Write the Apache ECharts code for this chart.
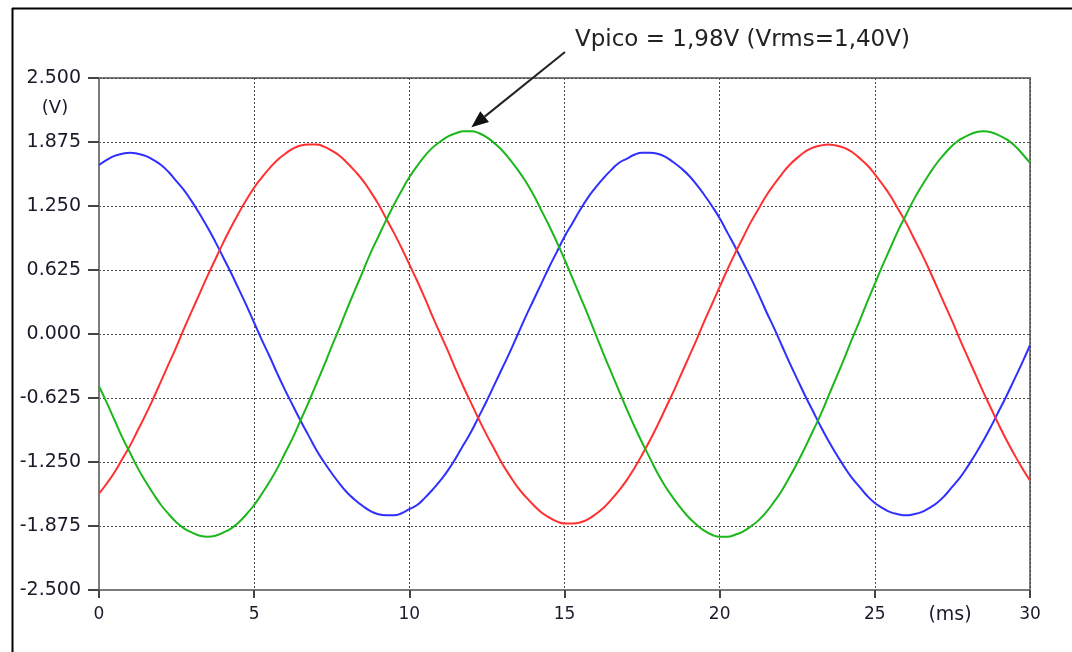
<!DOCTYPE html>
<html>
<head>
<meta charset="utf-8">
<script src="https://cdn.jsdelivr.net/npm/echarts@6/dist/echarts.min.js"></script>
<style>
  html, body { margin: 0; padding: 0; background: #ffffff; }
  #chart { width: 1072px; height: 652px; }
</style>
</head>
<body>
<div id="chart"></div>
<script>
// Time axis, milliseconds (one sample every 0.25 ms)
const timeMs = [
  0, 0.25, 0.5, 0.75, 1, 1.25, 1.5, 1.75, 2, 2.25, 2.5, 2.75, 3, 3.25, 3.5, 3.75,
  4, 4.25, 4.5, 4.75, 5, 5.25, 5.5, 5.75, 6, 6.25, 6.5, 6.75, 7, 7.25, 7.5, 7.75,
  8, 8.25, 8.5, 8.75, 9, 9.25, 9.5, 9.75, 10, 10.25, 10.5, 10.75, 11, 11.25, 11.5, 11.75,
  12, 12.25, 12.5, 12.75, 13, 13.25, 13.5, 13.75, 14, 14.25, 14.5, 14.75, 15, 15.25, 15.5, 15.75,
  16, 16.25, 16.5, 16.75, 17, 17.25, 17.5, 17.75, 18, 18.25, 18.5, 18.75, 19, 19.25, 19.5, 19.75,
  20, 20.25, 20.5, 20.75, 21, 21.25, 21.5, 21.75, 22, 22.25, 22.5, 22.75, 23, 23.25, 23.5, 23.75,
  24, 24.25, 24.5, 24.75, 25, 25.25, 25.5, 25.75, 26, 26.25, 26.5, 26.75, 27, 27.25, 27.5, 27.75,
  28, 28.25, 28.5, 28.75, 29, 29.25, 29.5, 29.75, 30
];

// Phase voltages (V)
const phaseBlue = [
  1.65, 1.70, 1.74, 1.76, 1.77, 1.76, 1.74, 1.70, 1.65, 1.58, 1.49, 1.40, 1.29, 1.17, 1.04, 0.90,
  0.75, 0.60, 0.44, 0.28, 0.11, -0.06, -0.22, -0.39, -0.55, -0.70, -0.85, -0.99, -1.13, -1.25, -1.36, -1.46,
  -1.55, -1.62, -1.68, -1.73, -1.76, -1.77, -1.77, -1.75, -1.71, -1.67, -1.60, -1.52, -1.43, -1.33, -1.21, -1.08,
  -0.95, -0.80, -0.65, -0.49, -0.33, -0.17, 0.00, 0.17, 0.33, 0.49, 0.65, 0.80, 0.95, 1.08, 1.21, 1.33,
  1.43, 1.52, 1.60, 1.67, 1.71, 1.75, 1.77, 1.77, 1.76, 1.73, 1.68, 1.62, 1.55, 1.46, 1.36, 1.25,
  1.13, 0.99, 0.85, 0.70, 0.55, 0.39, 0.22, 0.06, -0.11, -0.28, -0.44, -0.60, -0.75, -0.90, -1.04, -1.17,
  -1.29, -1.40, -1.49, -1.58, -1.65, -1.70, -1.74, -1.76, -1.77, -1.76, -1.74, -1.70, -1.65, -1.58, -1.49, -1.40,
  -1.29, -1.17, -1.04, -0.90, -0.75, -0.60, -0.44, -0.28, -0.11
];
const phaseRed = [
  -1.56, -1.46, -1.35, -1.22, -1.09, -0.94, -0.79, -0.63, -0.46, -0.29, -0.12, 0.06, 0.23, 0.40, 0.57, 0.73,
  0.89, 1.04, 1.18, 1.31, 1.43, 1.53, 1.62, 1.70, 1.76, 1.81, 1.84, 1.85, 1.85, 1.83, 1.79, 1.74,
  1.67, 1.59, 1.50, 1.39, 1.27, 1.13, 0.99, 0.84, 0.68, 0.52, 0.35, 0.17, 0.00, -0.17, -0.35, -0.52,
  -0.68, -0.84, -0.99, -1.13, -1.27, -1.39, -1.50, -1.59, -1.67, -1.74, -1.79, -1.83, -1.85, -1.85, -1.84, -1.81,
  -1.76, -1.70, -1.62, -1.53, -1.43, -1.31, -1.18, -1.04, -0.89, -0.73, -0.57, -0.40, -0.23, -0.06, 0.12, 0.29,
  0.46, 0.63, 0.79, 0.94, 1.09, 1.22, 1.35, 1.46, 1.56, 1.65, 1.72, 1.78, 1.82, 1.84, 1.85, 1.84,
  1.82, 1.78, 1.72, 1.65, 1.56, 1.46, 1.35, 1.22, 1.09, 0.94, 0.79, 0.63, 0.46, 0.29, 0.12, -0.06,
  -0.23, -0.40, -0.57, -0.73, -0.89, -1.04, -1.18, -1.31, -1.43
];
const phaseGreen = [
  -0.51, -0.67, -0.84, -1.01, -1.16, -1.31, -1.44, -1.56, -1.67, -1.76, -1.84, -1.90, -1.94, -1.97, -1.98, -1.97,
  -1.94, -1.90, -1.84, -1.76, -1.67, -1.56, -1.44, -1.31, -1.16, -1.01, -0.84, -0.67, -0.49, -0.31, -0.12, 0.06,
  0.25, 0.43, 0.61, 0.79, 0.95, 1.11, 1.26, 1.40, 1.53, 1.64, 1.74, 1.82, 1.88, 1.93, 1.96, 1.98,
  1.98, 1.96, 1.92, 1.86, 1.79, 1.70, 1.60, 1.49, 1.36, 1.21, 1.06, 0.90, 0.73, 0.55, 0.37, 0.19,
  0.00, -0.19, -0.37, -0.55, -0.73, -0.90, -1.06, -1.21, -1.36, -1.49, -1.60, -1.70, -1.79, -1.86, -1.92, -1.96,
  -1.98, -1.98, -1.96, -1.93, -1.88, -1.82, -1.74, -1.64, -1.53, -1.40, -1.26, -1.11, -0.95, -0.79, -0.61, -0.43,
  -0.25, -0.06, 0.12, 0.31, 0.49, 0.67, 0.84, 1.01, 1.16, 1.31, 1.44, 1.56, 1.67, 1.76, 1.84, 1.90,
  1.94, 1.97, 1.98, 1.97, 1.94, 1.90, 1.84, 1.76, 1.67
];

// Annotated peak of the green phase
const peakTime = 12;
const peakValue = 1.98;
const peakText = 'Vpico = 1,98V (Vrms=1,40V)';

const FONT = 'DejaVu Sans';
const LABEL_COLOR = '#1a1a2a';
const AXIS_COLOR = '#7c7c7c';
const GRID_COLOR = '#4a4a4a';

const toPairs = (vals) => timeMs.map((t, i) => [t, vals[i]]);

const chart = echarts.init(document.getElementById('chart'), null, { renderer: 'canvas' });

const lineSeries = (name, vals, color) => ({
  name,
  type: 'line',
  data: toPairs(vals),
  smooth: true,
  showSymbol: false,
  symbol: 'none',
  lineStyle: { color, width: 2, join: 'round' },
  itemStyle: { color },
  z: 3
});

chart.setOption({
  animation: false,
  backgroundColor: '#ffffff',
  grid: {
    left: 99, right: 42, top: 78, bottom: 62,
    show: true,
    borderColor: AXIS_COLOR,
    borderWidth: 2,
    backgroundColor: 'transparent'
  },
  xAxis: {
    type: 'value',
    min: 0, max: 30, interval: 5,
    axisLine: { show: true, onZero: false, lineStyle: { color: AXIS_COLOR, width: 2 } },
    axisTick: { show: true, length: 8, lineStyle: { color: '#444', width: 2 } },
    axisLabel: { margin: 16, color: LABEL_COLOR, fontSize: 17, fontFamily: FONT },
    splitLine: { show: true, lineStyle: { color: GRID_COLOR, width: 1, type: [2, 2] } }
  },
  yAxis: {
    type: 'value',
    min: -2.5, max: 2.5, interval: 0.625,
    axisLine: { show: true, onZero: false, lineStyle: { color: AXIS_COLOR, width: 2 } },
    axisTick: { show: true, length: 11, lineStyle: { color: '#444', width: 2 } },
    axisLabel: {
      margin: 18, color: LABEL_COLOR, fontSize: 19, fontFamily: FONT,
      formatter: (v) => v.toFixed(3)
    },
    splitLine: { show: true, lineStyle: { color: GRID_COLOR, width: 1, type: [2, 2] } }
  },
  series: [
    lineSeries('A', phaseBlue, '#2f2fff'),
    lineSeries('B', phaseRed, '#ff3030'),
    lineSeries('C', phaseGreen, '#1cb71c')
  ]
});

// Arrow pointing at the green peak, with its caption
const tip = chart.convertToPixel({ gridIndex: 0 }, [peakTime, peakValue]);
const tipX = tip[0];
const tipY = tip[1] - 4;
const startX = 565, startY = 52;
const ang = Math.atan2(tipY - startY, tipX - startX);
const headLen = 17, headHalf = 7;
const baseX = tipX - headLen * Math.cos(ang);
const baseY = tipY - headLen * Math.sin(ang);
const px = -Math.sin(ang) * headHalf, py = Math.cos(ang) * headHalf;

chart.setOption({
  graphic: [
    // outer frame
    { type: 'line', shape: { x1: 12, y1: 8.5, x2: 1072, y2: 8.5 }, style: { stroke: '#000', lineWidth: 2 } },
    { type: 'line', shape: { x1: 12.5, y1: 8, x2: 12.5, y2: 652 }, style: { stroke: '#000', lineWidth: 2 } },
    // unit captions
    { type: 'text', x: 55, y: 108, style: { text: '(V)', font: '18px "' + FONT + '"', fill: LABEL_COLOR, align: 'center', verticalAlign: 'middle' } },
    { type: 'text', x: 950, y: 615, style: { text: '(ms)', font: '19px "' + FONT + '"', fill: LABEL_COLOR, align: 'center', verticalAlign: 'middle' } },
    // annotation
    { type: 'text', x: 575, y: 40, style: { text: peakText, font: '23px "' + FONT + '"', fill: '#222', align: 'left', verticalAlign: 'middle' } },
    { type: 'line', shape: { x1: startX, y1: startY, x2: baseX, y2: baseY }, style: { stroke: '#222', lineWidth: 2 }, z: 10 },
    { type: 'polygon', shape: { points: [[tipX, tipY], [baseX + px, baseY + py], [baseX - px, baseY - py]] }, style: { fill: '#111' }, z: 10 }
  ]
});
</script>
</body>
</html>
